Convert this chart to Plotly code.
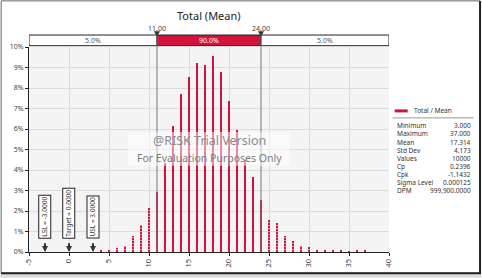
import plotly.graph_objects as go

# ---------------- data ----------------
values = list(range(4, 38))
pct = [0.10, 0.07, 0.21, 0.29, 0.78, 1.33, 2.15, 2.95, 4.32, 6.15, 7.72, 8.56, 9.22, 9.14,
       9.58, 8.79, 7.39, 5.94, 4.51, 3.64, 2.54, 1.57, 1.41, 0.77, 0.53, 0.31, 0.24, 0.11,
       0.08, 0.10, 0.06, 0.03, 0.08, 0.07]
lo_cut, hi_cut = 11, 24
band_labels = ["5.0%", "90.0%", "5.0%"]
spec_names = ["LSL = -3.0000", "Target = 0.0000", "USL = 3.0000"]
spec_x = [-3, 0, 3]
stat_names = ["Minimum", "Maximum", "Mean", "Std Dev", "Values", "Cp", "Cpk", "Sigma Level", "DPM"]
stat_vals = ["3.000", "37.000", "17.314", "4.173", "10000", "0.2396", "-1.1432", "0.000125", "999,900.0000"]
x_ticks = list(range(-5, 41, 5))
y_ticks = list(range(0, 11))

RED = "#D3123D"
FONT = "Noto Sans"
W, H = 482, 278
L, R, T, B = 28.7, 389.3, 47.0, 252.3

def px(x):
    return (x - L) / (R - L)

def py(y):
    return (B - y) / (B - T)

inside_x = [v for v in values if lo_cut <= v <= hi_cut]
inside_y = [p for v, p in zip(values, pct) if lo_cut <= v <= hi_cut]
out_x = [v for v in values if not (lo_cut <= v <= hi_cut)]
out_y = [p for v, p in zip(values, pct) if not (lo_cut <= v <= hi_cut)]

fig = go.Figure()
fig.add_trace(go.Bar(x=inside_x, y=inside_y, width=0.2, marker=dict(color=RED, line_width=0),
                     showlegend=False))
fig.add_trace(go.Bar(x=out_x, y=out_y, width=0.2,
                     marker=dict(color=RED, line_width=0,
                                 pattern=dict(shape="-", fgcolor="white", bgcolor=RED,
                                              size=3, solidity=0.35)),
                     showlegend=False))

shapes = []
ann = []

# top percentile band
segs = [(-5, lo_cut, "white"), (lo_cut, hi_cut, RED), (hi_cut, 40, "white")]
for (a, b, c), lab in zip(segs, band_labels):
    shapes.append(dict(type="rect", xref="x", yref="paper", x0=a, x1=b, y0=py(45.7), y1=py(35),
                       fillcolor=c, line=dict(color="#222", width=1), layer="above"))
    ann.append(dict(xref="x", yref="paper", x=(a + b) / 2, y=py(40.5), text=lab, showarrow=False,
                    font=dict(family=FONT, size=7, color="white" if c == RED else "#555"),
                    xanchor="center", yanchor="middle"))

for c in (lo_cut, hi_cut):
    shapes.append(dict(type="line", xref="x", yref="paper", x0=c, x1=c, y0=0, y1=py(35),
                       line=dict(color="#777", width=1), layer="above"))
    shapes.append(dict(type="path", xref="x", yref="paper",
                       path=f"M {c-0.33},{py(31.5)} L {c+0.33},{py(31.5)} L {c},{py(36)} Z",
                       fillcolor="#333", line=dict(color="#333", width=0.5), layer="above"))
    ann.append(dict(xref="x", yref="paper", x=c, y=py(28), text=f"{c:.2f}", showarrow=False,
                    font=dict(family=FONT, size=7, color="#444"), xanchor="center", yanchor="middle"))

# spec markers
box_px = [(192, 242), (186, 242), (193.5, 242)]
for name, sx, (t0, b0) in zip(spec_names, spec_x, box_px):
    ann.append(dict(xref="x", yref="paper", x=sx, y=py((t0 + b0) / 2), text=name, showarrow=False,
                    textangle=-90, font=dict(family=FONT, size=6.5, color="#333"),
                    bgcolor="white", bordercolor="#222", borderwidth=1, borderpad=1,
                    xanchor="center", yanchor="middle"))
    ann.append(dict(xref="x", yref="y", x=sx, y=0, ax=sx, ay=py(242) * 10, axref="x", ayref="y",
                    text="", showarrow=True, arrowhead=2, arrowsize=0.6, arrowwidth=2,
                    arrowcolor="#333"))

# watermark
shapes.append(dict(type="rect", xref="paper", yref="paper", x0=px(128), x1=px(290),
                   y0=py(166), y1=py(132), fillcolor="rgba(255,255,255,0.5)", line_width=0,
                   layer="above"))
ann.append(dict(xref="paper", yref="paper", x=px(209), y=py(141), text="@RISK Trial Version",
                showarrow=False, font=dict(family=FONT, size=12.5, color="#8a8a8a"),
                yanchor="middle"))
ann.append(dict(xref="paper", yref="paper", x=px(209), y=py(158), text="For Evaluation Purposes Only",
                showarrow=False, font=dict(family=FONT, size=10.5, color="#7a7a7a"),
                yanchor="middle"))

# title
ann.append(dict(xref="paper", yref="paper", x=px(209), y=py(15), text="Total (Mean)", showarrow=False,
                font=dict(family=FONT, size=11, color="#222"), xanchor="center", yanchor="middle"))

# legend
shapes.append(dict(type="line", xref="paper", yref="paper", x0=px(395), x1=px(408), y0=py(111),
                   y1=py(111), line=dict(color=RED, width=3)))
ann.append(dict(xref="paper", yref="paper", x=px(412), y=py(111), text="Total / Mean", showarrow=False,
                font=dict(family=FONT, size=6.5, color="#333"), xanchor="left", yanchor="middle"))
shapes.append(dict(type="line", xref="paper", yref="paper", x0=px(393), x1=px(474), y0=py(118),
                   y1=py(118), line=dict(color="#999", width=1)))
for i, (n, v) in enumerate(zip(stat_names, stat_vals)):
    yy = py(126 + 8.1 * i)
    ann.append(dict(xref="paper", yref="paper", x=px(395), y=yy, text=n, showarrow=False,
                    font=dict(family=FONT, size=6.5, color="#333"), xanchor="left", yanchor="middle"))
    ann.append(dict(xref="paper", yref="paper", x=px(473), y=yy, text=v, showarrow=False,
                    font=dict(family=FONT, size=6.5, color="#333"), xanchor="right", yanchor="middle"))

# frame
shapes.append(dict(type="rect", xref="paper", yref="paper", x0=px(0), x1=px(482), y0=py(278),
                   y1=py(273.5), fillcolor="#DDDDDD", line_width=0))
shapes.append(dict(type="rect", xref="paper", yref="paper", x0=px(0.8), x1=px(480.5), y0=py(273.5),
                   y1=py(0.8), line=dict(color="#666", width=1)))
shapes.append(dict(type="path", xref="paper", yref="paper",
                   path=f"M {px(480.5)},{py(1)} L {px(480.5)},{py(273.5)} L {px(0.8)},{py(273.5)}",
                   line=dict(color="#222", width=2)))

fig.update_layout(
    width=W, height=H, margin=dict(l=L, r=W - R, t=T, b=H - B, pad=0, autoexpand=False),
    paper_bgcolor="white", plot_bgcolor="#F4F4F4", bargap=0, barmode="overlay",
    shapes=shapes, annotations=ann, showlegend=False,
    font=dict(family=FONT, size=7, color="#444"),
)
fig.update_xaxes(range=[-5, 40], tickvals=x_ticks, ticktext=[str(t) for t in x_ticks], tickangle=-90,
                 automargin=False,
                 showgrid=True, gridcolor="#DCDCDC", gridwidth=1, zeroline=False,
                 showline=True, linecolor="#222", linewidth=1, ticks="outside", ticklen=3,
                 tickcolor="#222", tickfont=dict(family=FONT, size=7.5, color="#444"))
fig.update_yaxes(range=[0, 10], tickvals=y_ticks, ticktext=[f"{t}%" for t in y_ticks],
                 automargin=False,
                 showgrid=True, gridcolor="#DCDCDC", gridwidth=1, zeroline=False,
                 showline=True, linecolor="#222", linewidth=1, ticks="outside", ticklen=3,
                 tickcolor="#222", tickfont=dict(family=FONT, size=7, color="#444"))

fig.write_html("out.html")
